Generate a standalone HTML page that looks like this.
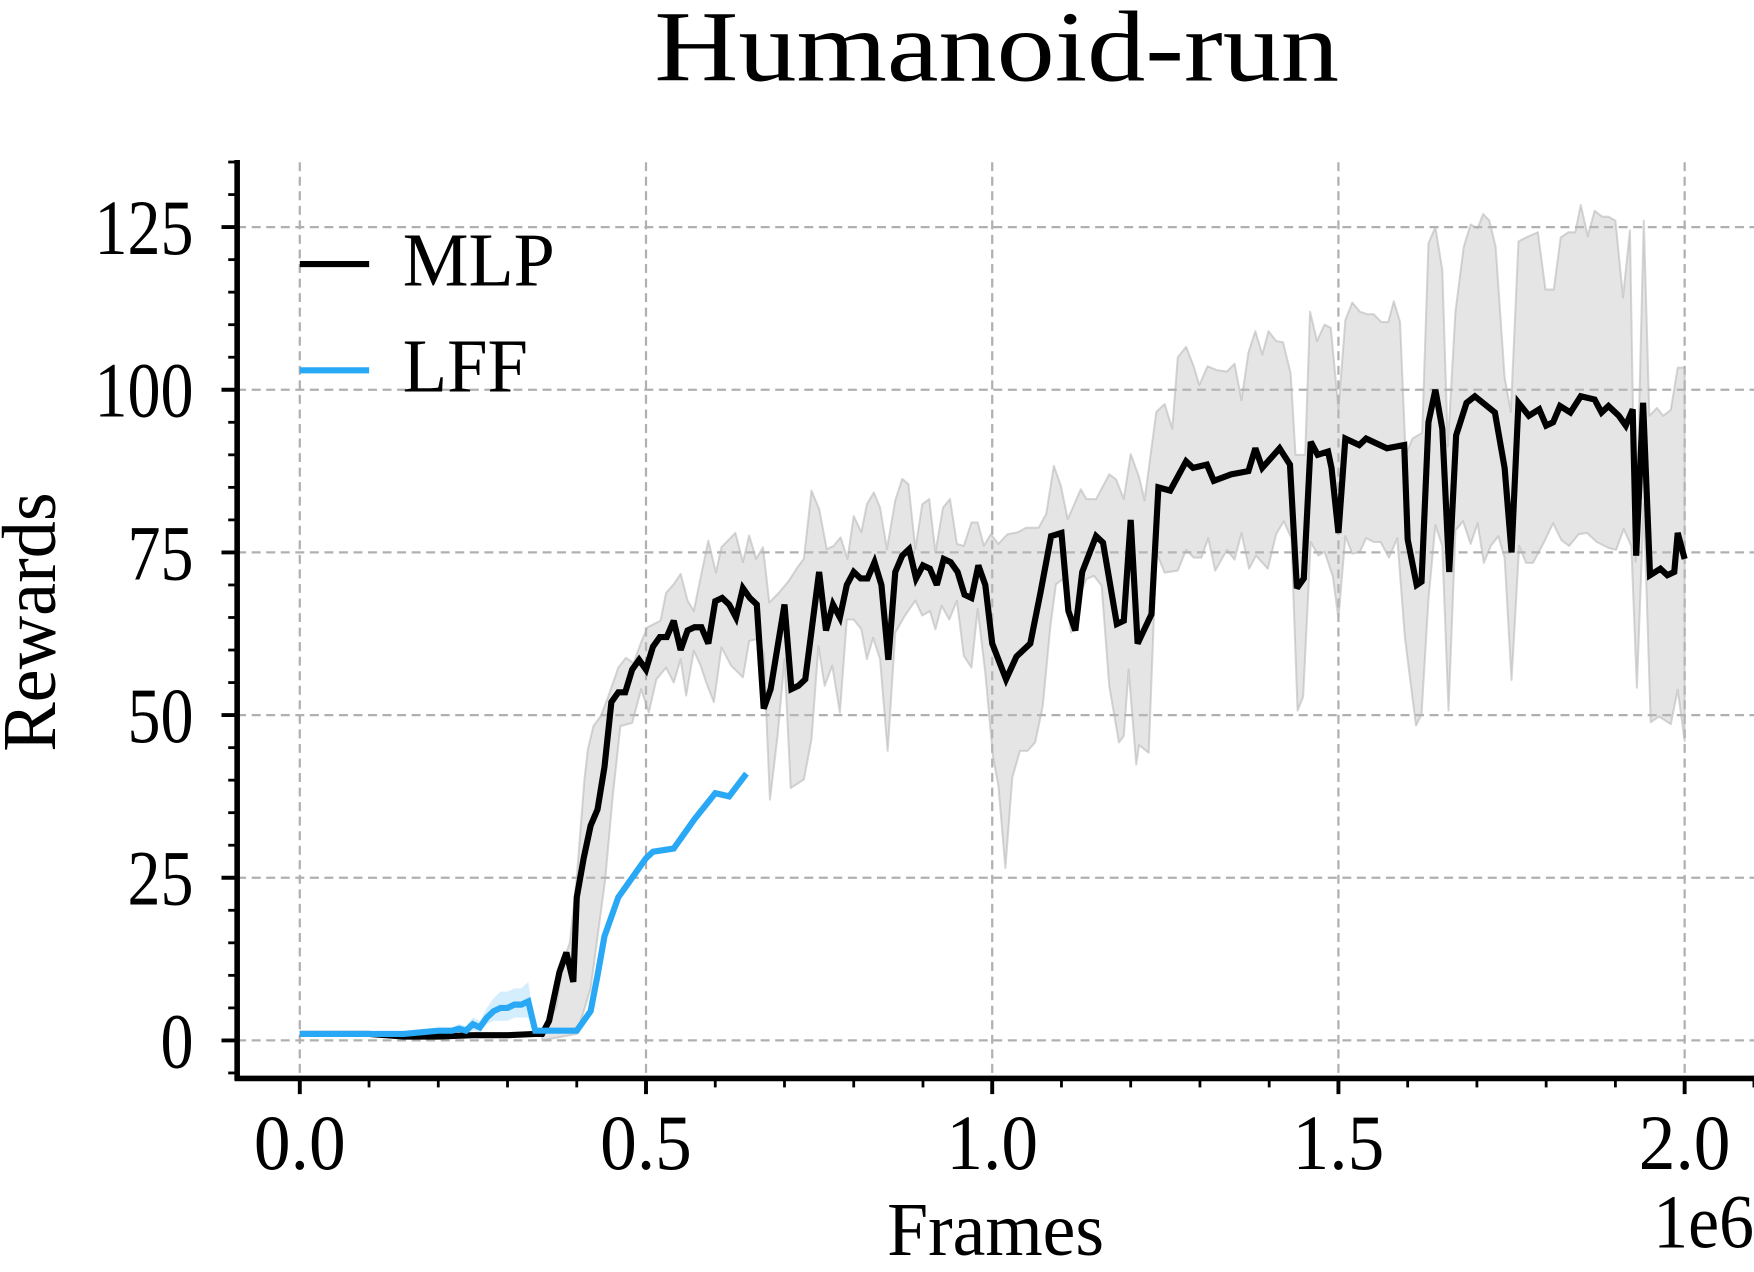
<!DOCTYPE html>
<html><head><meta charset="utf-8"><style>
html,body{margin:0;padding:0;background:#fff;}
svg{display:block;font-family:"Liberation Serif",serif;}
</style></head><body>
<svg id="chart" width="1754" height="1272" viewBox="0 0 1568 1137" preserveAspectRatio="none" xmlns="http://www.w3.org/2000/svg">
<text x="585" y="72" font-size="90" textLength="612" lengthAdjust="spacingAndGlyphs">Humanoid-run</text>
<g id="grid"></g>
<g id="bands"></g>
<g id="lines"></g>
<g id="axes"></g>
<text transform="translate(49,672) rotate(-90)" font-size="68" textLength="232" lengthAdjust="spacingAndGlyphs">Rewards</text>
<text x="793" y="1122" font-size="68" textLength="194" lengthAdjust="spacingAndGlyphs">Frames</text>
<text x="1478" y="1115" font-size="68" textLength="90" lengthAdjust="spacingAndGlyphs">1e6</text>
<g>
<line x1="268" y1="236" x2="330" y2="236" stroke="#000" stroke-width="5.5"/>
<text x="360" y="255" font-size="68" textLength="136" lengthAdjust="spacingAndGlyphs">MLP</text>
<line x1="268" y1="331" x2="330" y2="331" stroke="#29a8f5" stroke-width="5.5"/>
<text x="360" y="350" font-size="68" textLength="112" lengthAdjust="spacingAndGlyphs">LFF</text>
</g>
<script>
const mlpX=[0,0.05,0.1,0.15,0.2,0.25,0.3,0.34,0.35,0.36,0.375,0.385,0.395,0.40,0.41,0.42,0.43,0.44,0.45,0.46,0.47,0.48,0.49,0.50,0.51,0.52,0.53,0.54,0.55,0.56,0.57,0.58,0.59,0.60,0.61,0.62,0.63,0.64,0.65,0.66,0.67,0.68,0.70,0.71,0.72,0.73,0.75,0.76,0.77,0.78,0.79,0.80,0.81,0.82,0.83,0.84,0.85,0.86,0.87,0.88,0.89,0.90,0.91,0.92,0.93,0.94,0.95,0.96,0.97,0.98,0.99,1.0,1.02,1.035,1.055,1.07,1.085,1.1,1.11,1.12,1.13,1.15,1.16,1.18,1.19,1.2,1.21,1.23,1.24,1.257,1.28,1.29,1.31,1.32,1.345,1.37,1.38,1.39,1.415,1.43,1.44,1.45,1.46,1.47,1.485,1.49,1.5,1.51,1.53,1.54,1.57,1.595,1.6,1.613,1.62,1.63,1.64,1.65,1.66,1.67,1.685,1.697,1.726,1.74,1.75,1.76,1.775,1.79,1.8,1.81,1.82,1.835,1.85,1.87,1.88,1.89,1.905,1.915,1.925,1.93,1.94,1.95,1.965,1.975,1.985,1.99,2.0];
const mlpY=[1,1,1,0.6,0.6,0.8,0.8,1,1,3,10.5,13.5,9,22,28,33,35.5,42,52,53.5,53.5,57,58.5,57,60.5,62,62,64.5,60,63,63.5,63.5,61,67.5,68,67,65,69.5,68,67,51,54,67,54,54.5,55.5,72,63,67,65,70,72,71,71,73.5,70,58.5,72,74.5,75.5,71,73,72.5,70,74,73.5,72,68.5,68,73,70,61,55.5,59,61,69,77.5,78,66,63,72,77.5,76.5,64,64.5,80,61,65.5,85,84.5,89,88,88.5,86,87,87.5,91,88,91,88.5,69.5,71,92,90,90.5,88,78,92.5,91.5,92.5,91,91.5,77,70,70.5,95,100,94,72,93,98,99,96.5,88,75,98,96,97,94.5,95,97.5,96.5,99,98.5,96.5,97.5,96,94.5,97,74.5,98,71.5,72.5,71.5,72,78,74];
const hiX=[0.35,0.37,0.38,0.39,0.40,0.411,0.416,0.424,0.435,0.446,0.460,0.471,0.482,0.493,0.502,0.521,0.529,0.540,0.550,0.560,0.569,0.579,0.590,0.601,0.609,0.629,0.640,0.649,0.659,0.669,0.678,0.692,0.706,0.720,0.728,0.739,0.750,0.761,0.771,0.781,0.791,0.800,0.811,0.819,0.829,0.838,0.848,0.860,0.870,0.879,0.889,0.899,0.909,0.918,0.929,0.939,0.949,0.959,0.970,0.979,0.988,0.998,1.009,1.022,1.037,1.049,1.067,1.078,1.089,1.099,1.109,1.128,1.136,1.150,1.169,1.179,1.190,1.200,1.212,1.220,1.237,1.249,1.260,1.268,1.280,1.291,1.299,1.311,1.325,1.339,1.350,1.360,1.370,1.380,1.390,1.399,1.410,1.420,1.431,1.438,1.452,1.459,1.469,1.480,1.489,1.5,1.510,1.520,1.531,1.542,1.551,1.562,1.572,1.580,1.589,1.597,1.607,1.621,1.630,1.640,1.650,1.658,1.669,1.681,1.691,1.701,1.709,1.718,1.727,1.740,1.749,1.760,1.771,1.788,1.799,1.811,1.821,1.832,1.842,1.850,1.860,1.870,1.881,1.890,1.900,1.911,1.921,1.929,1.941,1.949,1.960,1.969,1.980,1.990,2.0];
const hiY=[1.5,5,12,15,25,40,44.7,48.3,49.9,53,57.3,58.8,58,61.2,63.5,64.5,68.8,70.1,71.7,67.6,66,71.2,76.8,71.9,75.8,78,73.5,77.6,74,75.8,67.3,68.8,70.6,72.9,74,84.5,81.7,75.5,76,77.3,74,80.6,78.1,82.4,84.2,81.9,75.5,83,86.3,85.5,75.5,82.4,83.2,75,81.9,83.2,76.3,76,79.6,79.6,76,77.8,76.3,77.8,78.1,78.8,78.8,80.9,88.3,85.3,80.1,84.7,83.2,83.2,87,86.2,83.2,90.1,86.6,83,96.6,97.8,94,105,106.6,103.6,100.7,103.6,103,102.8,104,98.4,105.7,109,105.4,109,107.5,107.3,102.5,90,90,112,107.5,110,109.5,97,110.7,113.4,112,111.6,111.6,110.4,110.4,113.6,110.4,90,92.5,93.4,122.5,125,118.4,91.3,112,122,125.4,124.8,127,126,122,101.9,96.6,122.8,123.4,124.2,115.4,115.4,123.4,124.2,124.2,128.4,123.6,127.5,126.6,126.6,126,114.2,124.5,73.6,126,96,97.2,96,96.9,103.4,103.4];
const loX=[0.35,0.40,0.42,0.441,0.452,0.463,0.480,0.493,0.504,0.515,0.529,0.540,0.550,0.558,0.569,0.579,0.587,0.598,0.609,0.623,0.640,0.649,0.661,0.670,0.679,0.690,0.700,0.709,0.728,0.739,0.749,0.758,0.769,0.780,0.790,0.800,0.811,0.819,0.828,0.838,0.849,0.860,0.874,0.889,0.899,0.910,0.918,0.927,0.938,0.949,0.959,0.970,0.979,0.990,1.001,1.009,1.019,1.029,1.040,1.051,1.062,1.073,1.084,1.092,1.102,1.114,1.124,1.136,1.147,1.158,1.169,1.183,1.190,1.197,1.208,1.212,1.226,1.237,1.249,1.268,1.280,1.291,1.302,1.312,1.322,1.339,1.350,1.360,1.371,1.381,1.398,1.410,1.421,1.432,1.441,1.449,1.460,1.471,1.480,1.492,1.5,1.510,1.520,1.531,1.540,1.551,1.561,1.573,1.585,1.596,1.612,1.620,1.630,1.640,1.650,1.659,1.669,1.680,1.691,1.701,1.710,1.720,1.731,1.740,1.750,1.761,1.771,1.781,1.797,1.810,1.822,1.833,1.847,1.859,1.873,1.890,1.901,1.912,1.923,1.931,1.941,1.951,1.963,1.980,1.990,2.0];
const loY=[0,1,8,24.7,37.6,48.3,48.8,54,50.4,55.5,57.3,55,58.6,53,59.9,57.6,55,52,60.4,57.6,55.8,61.4,61.7,59.6,37,46.8,58.6,38.8,40.1,46.3,60.6,54.5,57.6,50.4,64.7,64.7,63.2,58.6,61.9,58.6,44.5,62.7,65.3,67.6,65.3,66,63.2,66.8,64.7,67.6,59.1,57.3,66.3,56.5,43.7,39.1,26.5,40.4,44.5,44.5,45.8,51.4,63.7,70.1,70.9,62.7,67.8,70.9,71.4,69.9,54.5,45.8,46.8,57,42.4,45.4,44.2,75,71.9,72.2,75.4,74.2,74.2,77.2,72.2,75.4,73.9,78,72.5,74.5,72.5,77.8,79.8,77.2,50.7,52.8,76.6,74.5,75.1,71.3,64.8,77.5,74.8,75.1,77.2,76.6,76.6,74.2,77.2,61.9,48.4,50.1,67.8,79.2,76,50.7,78.4,79.8,76.3,79.5,73.4,76,77.5,74.2,55.4,76,73.4,73.4,76.6,79.5,76.9,76,77.8,78,76.6,75.7,75.4,78.6,76,54.2,82.5,48.9,49.8,48.6,53.9,46];
const lffX=[0,0.05,0.1,0.15,0.2,0.22,0.23,0.24,0.25,0.26,0.27,0.28,0.29,0.30,0.31,0.32,0.33,0.34,0.35,0.36,0.38,0.40,0.42,0.43,0.44,0.46,0.48,0.50,0.51,0.54,0.57,0.60,0.62,0.645];
const lffY=[1,1,1,1,1.5,1.5,1.8,1.5,2.5,2,3.5,4.5,5,5,5.5,5.5,6,1.5,1.5,1.5,1.5,1.5,4.5,10,16,22,25,28,29,29.5,34,38,37.5,41];
const lffHi=[1,1,1,1.2,1.8,2,2.5,2.2,3.5,3,5,6.5,7.5,7.5,8,8,9,1.8,1.8,1.8,1.8,1.8,5,10.5,16.5,22.5,25.5,28.5,29.5,30,34.5,38.5,38,41.5];
const lffLo=[1,1,1,0.8,1.2,1.2,1.2,1,1.5,1.2,2.5,3,3,3,3.5,3.5,3.5,1.2,1.2,1.2,1.2,1.2,4,9.5,15.5,21.5,24.5,27.5,28.5,29,33.5,37.5,37,40.5];
const xTicks=["0.0","0.5","1.0","1.5","2.0"];
const yTicks=["0","25","50","75","100","125"];

const NS="http://www.w3.org/2000/svg";
const X=v=>268+v*619;
const Y=v=>930-v*5.816;
function mk(tag,parent,attrs){const e=document.createElementNS(NS,tag);for(const k in attrs)e.setAttribute(k,attrs[k]);document.getElementById(parent).appendChild(e);return e;}
xTicks.forEach(t=>{const v=parseFloat(t);const l=mk('line','grid',{x1:X(v),x2:X(v),y1:145,y2:964,stroke:'#b0b0b0','stroke-width':2,'stroke-dasharray':'8,5'});

});
yTicks.forEach(t=>{const v=parseFloat(t);const l=mk('line','grid',{x1:212,x2:1568,y1:Y(v),y2:Y(v),stroke:'#b0b0b0','stroke-width':2,'stroke-dasharray':'8,5'});

});
function band(hx,hy,lx,ly,fill,stroke,name){let d='M'+hx.map((x,i)=>X(x)+','+Y(hy[i])).join('L');for(let i=lx.length-1;i>=0;i--)d+='L'+X(lx[i])+','+Y(ly[i]);d+='Z';
const p=mk('path','bands',{d:d,fill:fill,stroke:stroke,'stroke-width':1.8,'stroke-linejoin':'round'});

}
band(hiX,hiY,loX,loY,'rgba(190,190,190,0.4)','rgba(180,180,180,0.55)','mlp-band');
band(lffX,lffHi,lffX,lffLo,'rgba(41,168,245,0.2)','none','lff-band');
function line(xs,ys,color,name){const p=mk('polyline','lines',{points:xs.map((x,i)=>X(x)+','+Y(ys[i])).join(' '),fill:'none',stroke:color,'stroke-width':5.5,'stroke-linejoin':'miter','stroke-miterlimit':3});

}
line(mlpX,mlpY,'#000','mlp-line');
line(lffX,lffY,'#29a8f5','lff-line');
let a=mk('line','axes',{x1:212,x2:212,y1:143,y2:966,stroke:'#000','stroke-width':5});


a=mk('line','axes',{x1:210,x2:1568,y1:964,y2:964,stroke:'#000','stroke-width':5});


for(let i=0;i<=21;i++){const v=i/10;const major=i%5===0;const t=mk('line','axes',{x1:X(v),x2:X(v),y1:964,y2:964+(major?14:8),stroke:'#000','stroke-width':major?3.5:2.5});

}
for(let v=-5;v<=135;v+=5){const major=v%25===0;const t=mk('line','axes',{x1:212,x2:212-(major?14:8),y1:Y(v),y2:Y(v),stroke:'#000','stroke-width':major?3.5:2.5});

}
xTicks.forEach(t=>{const e=mk('text','axes',{x:X(parseFloat(t))-41,y:1045,'font-size':70,textLength:82,lengthAdjust:'spacingAndGlyphs'});e.textContent=t;

});
yTicks.forEach(t=>{const w=29.5*t.length;const e=mk('text','axes',{x:173-w,y:Y(parseFloat(t))+24,'font-size':70,textLength:w,lengthAdjust:'spacingAndGlyphs'});e.textContent=t;

});
</script>
</svg>
</body></html>
